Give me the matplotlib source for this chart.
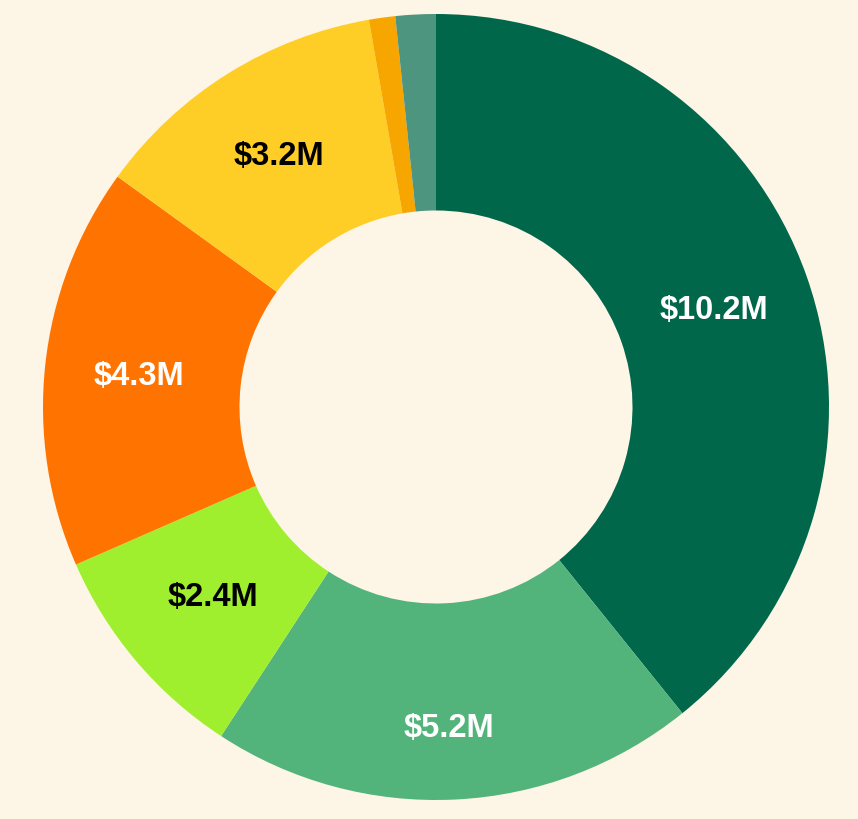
import numpy as np
import matplotlib.pyplot as plt

# slice values in $M, clockwise from 12 o'clock
segments = ['A', 'B', 'C', 'D', 'E', 'F', 'G']
values = [10.2, 5.2, 2.4, 4.3, 3.2, 0.28, 0.43]
labels = ['$10.2M', '$5.2M', '$2.4M', '$4.3M', '$3.2M', '', '']
colors = ['#00674B', '#52B47B', '#A0EF2E', '#FF7300', '#FFCE26', '#F7A600', '#4E9580']
label_colors = ['white', 'white', 'black', 'white', 'black', 'black', 'black']

# label placement tweaks (radius, angle shift in degrees)
label_r = [0.75, 0.815, 0.745, 0.76, 0.755, 0.75, 0.75]
label_shift = [0, -0.6, 0, 0, 0, 0, 0]

BG = '#FDF5E6'
W, H = 858, 820
R_PX = 393
CX, CY = 436, 408

fig = plt.figure(figsize=(W / 100, H / 100), dpi=100)
fig.patch.set_facecolor(BG)
ax = fig.add_axes([0, 0, 1, 1])
ax.set_facecolor(BG)

wedges, _ = ax.pie(values, colors=colors, startangle=90, counterclock=False,
                   radius=1.0, wedgeprops=dict(width=0.5, linewidth=0))

# labels in the middle of the ring
for w, lab, lc, r, sh in zip(wedges, labels, label_colors, label_r, label_shift):
    if not lab:
        continue
    ang = np.deg2rad((w.theta1 + w.theta2) / 2 + sh)
    ax.text(r * np.cos(ang), r * np.sin(ang), lab, ha='center', va='center',
            color=lc, fontsize=23.5, fontweight='bold', family='Liberation Sans')

ax.set_xlim(-CX / R_PX, (W - CX) / R_PX)
ax.set_ylim(-(H - CY) / R_PX, CY / R_PX)
ax.set_aspect('auto')
ax.axis('off')

fig.savefig('out.png', dpi=100, facecolor=BG)
